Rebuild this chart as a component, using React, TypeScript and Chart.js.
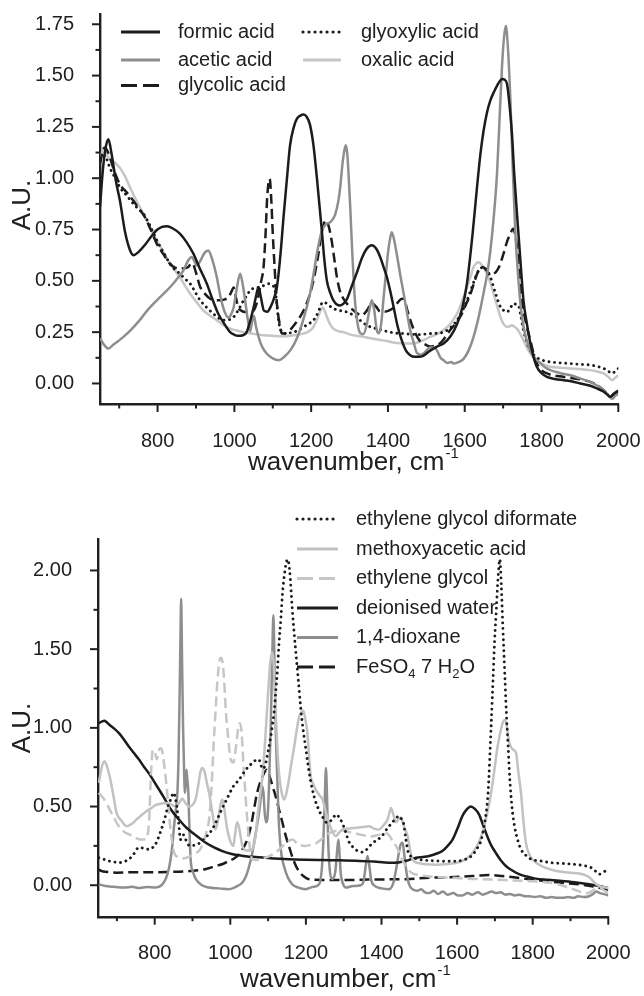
import React, { useEffect, useRef } from 'react';
import { Chart, registerables } from 'chart.js';

Chart.register(...registerables);

const FONT = '"Liberation Sans", Arial, Helvetica, sans-serif';
const INK = '#202020';
const BLACK = '#1c1c1c';
const MID = '#8e8e8e';
const LIGHT = '#c6c6c6';

type Pt = [number, number];

// ---------------- Top panel (wavenumber, A.U.) ----------------
const formicAcid: Pt[] = [
  [650,0.86],[658,1.05],[666,1.16],[672,1.19],[680,1.12],[692,0.98],[702,0.89],[715,0.74],[728,0.65],[737,0.625],[750,0.64],[767,0.675],[785,0.72],[798,0.748],[812,0.763],[824,0.766],[840,0.755],[858,0.73],[875,0.69],[893,0.633],[910,0.56],[928,0.487],[943,0.41],[958,0.34],[974,0.29],[989,0.25],[1000,0.237],[1010,0.232],[1022,0.235],[1032,0.25],[1042,0.31],[1050,0.37],[1057,0.43],[1063,0.47],[1069,0.42],[1077,0.355],[1086,0.35],[1096,0.38],[1104,0.42],[1110,0.46],[1116,0.55],[1122,0.67],[1128,0.81],[1137,1.0],[1145,1.16],[1155,1.25],[1163,1.29],[1172,1.305],[1180,1.31],[1188,1.3],[1197,1.26],[1206,1.16],[1215,1.0],[1222,0.86],[1228,0.74],[1234,0.61],[1241,0.5],[1250,0.44],[1258,0.405],[1267,0.385],[1276,0.38],[1285,0.39],[1293,0.41],[1305,0.47],[1319,0.54],[1332,0.61],[1345,0.657],[1358,0.673],[1370,0.655],[1380,0.615],[1390,0.56],[1397,0.52],[1406,0.45],[1415,0.37],[1425,0.28],[1436,0.21],[1447,0.16],[1458,0.138],[1470,0.13],[1480,0.13],[1492,0.135],[1510,0.16],[1528,0.18],[1545,0.195],[1563,0.23],[1580,0.29],[1594,0.37],[1606,0.49],[1620,0.72],[1632,0.956],[1641,1.12],[1649,1.23],[1658,1.32],[1667,1.38],[1676,1.42],[1684,1.45],[1692,1.475],[1698,1.483],[1704,1.48],[1710,1.46],[1716,1.37],[1723,1.217],[1729,1.02],[1736,0.83],[1745,0.6],[1753,0.405],[1762,0.29],[1771,0.195],[1780,0.125],[1788,0.08],[1800,0.05],[1814,0.032],[1835,0.022],[1858,0.016],[1880,0.01],[1901,0.0],[1925,-0.01],[1945,-0.025],[1962,-0.04],[1972,-0.055],[1979,-0.065],[1988,-0.05],[2000,-0.035]
];
const aceticAcid: Pt[] = [
  [650,0.22],[660,0.19],[672,0.17],[685,0.19],[700,0.21],[711,0.227],[730,0.26],[754,0.31],[775,0.36],[798,0.405],[820,0.445],[841,0.487],[855,0.52],[867,0.55],[880,0.6],[889,0.616],[896,0.595],[902,0.575],[912,0.6],[922,0.635],[932,0.648],[943,0.6],[954,0.52],[963,0.43],[971,0.37],[978,0.335],[985,0.32],[992,0.34],[998,0.37],[1006,0.46],[1015,0.535],[1022,0.48],[1028,0.405],[1035,0.31],[1041,0.255],[1046,0.3],[1051,0.33],[1056,0.28],[1063,0.227],[1072,0.18],[1084,0.146],[1100,0.122],[1115,0.113],[1130,0.13],[1145,0.16],[1158,0.2],[1171,0.26],[1184,0.34],[1197,0.437],[1206,0.53],[1215,0.632],[1222,0.7],[1228,0.745],[1238,0.775],[1250,0.786],[1262,0.82],[1271,0.89],[1276,0.96],[1281,1.06],[1286,1.13],[1290,1.16],[1294,1.12],[1298,1.0],[1302,0.85],[1307,0.64],[1314,0.405],[1321,0.29],[1328,0.245],[1336,0.24],[1344,0.28],[1352,0.36],[1358,0.405],[1364,0.36],[1371,0.26],[1377,0.245],[1383,0.3],[1388,0.405],[1395,0.54],[1401,0.65],[1406,0.71],[1410,0.737],[1416,0.7],[1423,0.63],[1432,0.53],[1441,0.437],[1450,0.34],[1458,0.26],[1467,0.2],[1475,0.15],[1485,0.14],[1495,0.15],[1510,0.175],[1520,0.175],[1528,0.16],[1537,0.125],[1545,0.113],[1555,0.1],[1565,0.105],[1571,0.097],[1585,0.105],[1597,0.12],[1610,0.16],[1623,0.227],[1637,0.33],[1649,0.44],[1659,0.54],[1667,0.65],[1676,0.82],[1684,1.02],[1691,1.3],[1697,1.54],[1702,1.68],[1707,1.743],[1712,1.65],[1719,1.38],[1725,1.05],[1732,0.73],[1740,0.5],[1749,0.324],[1760,0.22],[1771,0.16],[1782,0.125],[1793,0.105],[1808,0.08],[1823,0.065],[1850,0.05],[1875,0.04],[1900,0.025],[1927,0.008],[1945,-0.01],[1962,-0.032],[1975,-0.06],[1984,-0.075],[1992,-0.06],[2000,-0.05]
];
const glycolicAcid: Pt[] = [
  [650,1.07],[657,1.13],[663,1.15],[670,1.13],[676,1.1],[688,1.03],[702,0.97],[720,0.93],[737,0.89],[752,0.85],[767,0.81],[782,0.75],[798,0.68],[815,0.63],[832,0.584],[845,0.565],[858,0.56],[870,0.562],[880,0.567],[888,0.585],[893,0.58],[900,0.54],[911,0.47],[924,0.435],[937,0.413],[950,0.405],[963,0.405],[975,0.41],[985,0.42],[993,0.45],[998,0.467],[1004,0.42],[1010,0.37],[1018,0.355],[1028,0.348],[1040,0.35],[1050,0.355],[1058,0.39],[1063,0.43],[1070,0.5],[1076,0.567],[1081,0.72],[1085,0.89],[1089,0.98],[1092,0.997],[1096,0.9],[1100,0.73],[1105,0.56],[1110,0.405],[1117,0.3],[1124,0.243],[1134,0.245],[1145,0.26],[1158,0.29],[1171,0.324],[1184,0.37],[1197,0.437],[1208,0.52],[1219,0.632],[1228,0.74],[1238,0.794],[1245,0.77],[1253,0.7],[1260,0.61],[1267,0.518],[1275,0.45],[1284,0.413],[1297,0.38],[1310,0.356],[1321,0.34],[1332,0.332],[1345,0.355],[1358,0.39],[1369,0.375],[1380,0.35],[1391,0.35],[1402,0.355],[1415,0.37],[1426,0.395],[1436,0.413],[1442,0.41],[1450,0.36],[1458,0.31],[1470,0.25],[1484,0.205],[1497,0.19],[1510,0.18],[1523,0.185],[1536,0.196],[1549,0.225],[1562,0.26],[1575,0.29],[1588,0.324],[1602,0.38],[1615,0.437],[1626,0.5],[1636,0.551],[1645,0.567],[1653,0.56],[1661,0.54],[1668,0.532],[1676,0.535],[1684,0.55],[1692,0.58],[1701,0.632],[1710,0.69],[1719,0.73],[1726,0.754],[1731,0.73],[1736,0.665],[1742,0.54],[1749,0.405],[1760,0.29],[1771,0.21],[1780,0.14],[1788,0.097],[1800,0.065],[1820,0.045],[1858,0.032],[1900,0.02],[1927,0.008],[1950,-0.015],[1965,-0.04],[1979,-0.065],[1990,-0.05],[2000,-0.04]
];
const glyoxylicAcid: Pt[] = [
  [650,1.09],[657,1.1],[663,1.11],[670,1.08],[676,1.05],[690,1.0],[702,0.955],[720,0.915],[737,0.875],[750,0.85],[763,0.827],[780,0.77],[798,0.697],[815,0.64],[832,0.584],[845,0.555],[858,0.535],[871,0.51],[885,0.486],[898,0.445],[911,0.405],[928,0.37],[945,0.34],[958,0.32],[971,0.308],[985,0.31],[998,0.324],[1011,0.36],[1024,0.405],[1033,0.43],[1041,0.454],[1054,0.465],[1067,0.47],[1078,0.478],[1089,0.486],[1098,0.48],[1106,0.454],[1111,0.38],[1115,0.308],[1121,0.26],[1128,0.243],[1140,0.245],[1154,0.25],[1167,0.26],[1180,0.275],[1193,0.29],[1206,0.308],[1219,0.35],[1226,0.385],[1232,0.397],[1240,0.39],[1250,0.375],[1258,0.365],[1275,0.355],[1293,0.348],[1306,0.337],[1319,0.324],[1332,0.3],[1345,0.284],[1358,0.273],[1371,0.267],[1388,0.258],[1406,0.25],[1423,0.245],[1441,0.243],[1460,0.24],[1480,0.238],[1495,0.24],[1510,0.243],[1528,0.245],[1545,0.25],[1562,0.27],[1580,0.308],[1593,0.35],[1606,0.405],[1619,0.47],[1632,0.535],[1641,0.56],[1649,0.567],[1658,0.55],[1667,0.518],[1680,0.44],[1693,0.373],[1702,0.355],[1710,0.348],[1718,0.365],[1727,0.39],[1734,0.385],[1740,0.38],[1746,0.33],[1753,0.26],[1762,0.2],[1771,0.16],[1782,0.135],[1793,0.12],[1808,0.11],[1823,0.105],[1850,0.1],[1875,0.097],[1900,0.093],[1927,0.09],[1945,0.083],[1962,0.073],[1975,0.058],[1984,0.049],[1992,0.06],[2000,0.073]
];
const oxalicAcid: Pt[] = [
  [650,1.07],[655,1.12],[659,1.15],[665,1.13],[672,1.1],[686,1.08],[702,1.05],[715,1.01],[728,0.956],[745,0.89],[763,0.827],[780,0.76],[798,0.697],[815,0.64],[832,0.584],[845,0.55],[858,0.518],[871,0.478],[885,0.437],[902,0.395],[919,0.356],[937,0.33],[954,0.308],[971,0.285],[989,0.267],[1006,0.258],[1024,0.25],[1050,0.242],[1076,0.235],[1100,0.232],[1128,0.23],[1155,0.235],[1180,0.243],[1195,0.255],[1206,0.275],[1215,0.31],[1223,0.348],[1230,0.37],[1236,0.35],[1241,0.324],[1250,0.285],[1258,0.267],[1270,0.255],[1284,0.25],[1302,0.238],[1320,0.232],[1336,0.227],[1354,0.22],[1371,0.215],[1388,0.21],[1406,0.203],[1423,0.197],[1441,0.195],[1458,0.195],[1470,0.196],[1485,0.205],[1497,0.215],[1510,0.227],[1528,0.24],[1545,0.26],[1562,0.29],[1580,0.34],[1593,0.4],[1606,0.47],[1615,0.52],[1623,0.567],[1630,0.585],[1636,0.59],[1645,0.575],[1658,0.535],[1667,0.49],[1675,0.437],[1684,0.38],[1693,0.324],[1701,0.29],[1710,0.275],[1716,0.278],[1723,0.284],[1730,0.275],[1736,0.267],[1745,0.24],[1753,0.21],[1762,0.175],[1771,0.146],[1782,0.12],[1793,0.105],[1808,0.09],[1823,0.081],[1850,0.077],[1875,0.073],[1900,0.07],[1927,0.065],[1945,0.058],[1962,0.049],[1975,0.03],[1984,0.016],[1992,0.028],[2000,0.04]
];

// ---------------- Bottom panel ----------------
const ethyleneGlycolDiformate: Pt[] = [
  [652,0.175],[665,0.165],[679,0.154],[692,0.148],[705,0.143],[718,0.15],[732,0.165],[745,0.2],[758,0.24],[771,0.235],[785,0.228],[795,0.24],[802,0.26],[814,0.33],[826,0.418],[835,0.5],[842,0.544],[850,0.587],[855,0.55],[859,0.49],[864,0.38],[868,0.29],[872,0.3],[876,0.32],[882,0.29],[888,0.26],[895,0.25],[906,0.255],[920,0.27],[933,0.3],[946,0.333],[960,0.39],[973,0.46],[990,0.544],[1008,0.628],[1023,0.67],[1041,0.734],[1055,0.77],[1063,0.787],[1072,0.8],[1078,0.79],[1085,0.74],[1092,0.76],[1100,0.85],[1106,0.93],[1111,1.01],[1116,1.1],[1120,1.22],[1125,1.38],[1129,1.54],[1134,1.7],[1138,1.85],[1143,1.97],[1148,2.05],[1152,2.07],[1157,2.0],[1164,1.75],[1169,1.6],[1173,1.49],[1180,1.3],[1186,1.135],[1192,1.0],[1199,0.88],[1206,0.76],[1212,0.67],[1222,0.56],[1234,0.48],[1245,0.43],[1256,0.397],[1266,0.41],[1274,0.435],[1281,0.45],[1288,0.43],[1296,0.397],[1305,0.34],[1313,0.28],[1322,0.249],[1332,0.225],[1340,0.217],[1350,0.21],[1360,0.225],[1375,0.265],[1390,0.29],[1401,0.312],[1415,0.36],[1428,0.397],[1440,0.43],[1447,0.44],[1453,0.42],[1458,0.397],[1464,0.3],[1471,0.207],[1482,0.18],[1497,0.165],[1520,0.158],[1550,0.154],[1580,0.152],[1603,0.154],[1622,0.165],[1638,0.186],[1652,0.23],[1664,0.29],[1673,0.4],[1682,0.587],[1690,1.01],[1695,1.3],[1699,1.54],[1704,1.76],[1708,1.94],[1713,2.07],[1717,1.9],[1721,1.64],[1726,1.35],[1730,1.11],[1735,0.88],[1739,0.69],[1745,0.5],[1752,0.375],[1760,0.29],[1769,0.228],[1782,0.19],[1796,0.165],[1820,0.155],[1849,0.143],[1880,0.138],[1910,0.133],[1935,0.125],[1954,0.112],[1966,0.09],[1976,0.07],[1985,0.08],[1993,0.09],[2000,0.09]
];
const methoxyaceticAcid: Pt[] = [
  [652,0.65],[660,0.75],[667,0.787],[673,0.76],[680,0.7],[690,0.58],[699,0.46],[712,0.41],[726,0.375],[740,0.39],[752,0.418],[765,0.445],[778,0.47],[791,0.49],[803,0.51],[816,0.518],[829,0.523],[842,0.515],[855,0.5],[864,0.52],[873,0.55],[882,0.52],[891,0.5],[900,0.51],[908,0.544],[915,0.63],[921,0.72],[926,0.745],[932,0.72],[938,0.65],[944,0.586],[952,0.47],[961,0.354],[968,0.42],[974,0.51],[979,0.544],[985,0.47],[992,0.354],[1000,0.28],[1008,0.249],[1013,0.33],[1018,0.4],[1023,0.37],[1032,0.25],[1045,0.22],[1058,0.228],[1066,0.3],[1073,0.46],[1080,0.6],[1086,0.71],[1093,0.95],[1100,1.22],[1106,1.42],[1111,1.48],[1115,1.4],[1120,1.11],[1125,0.85],[1129,0.71],[1135,0.6],[1142,0.544],[1148,0.58],[1155,0.67],[1162,0.78],[1169,0.88],[1176,0.99],[1182,1.07],[1188,1.1],[1193,1.11],[1198,1.06],[1204,0.966],[1209,0.8],[1213,0.69],[1220,0.64],[1226,0.607],[1235,0.575],[1244,0.544],[1252,0.47],[1261,0.397],[1270,0.34],[1279,0.312],[1288,0.335],[1297,0.354],[1315,0.36],[1332,0.365],[1350,0.37],[1367,0.375],[1380,0.36],[1393,0.354],[1405,0.38],[1416,0.418],[1421,0.46],[1425,0.49],[1430,0.46],[1438,0.4],[1445,0.42],[1451,0.43],[1460,0.37],[1469,0.312],[1476,0.22],[1482,0.165],[1500,0.14],[1518,0.133],[1545,0.13],[1570,0.133],[1592,0.14],[1614,0.154],[1628,0.175],[1641,0.207],[1655,0.26],[1667,0.333],[1679,0.45],[1690,0.587],[1699,0.74],[1707,0.88],[1716,0.99],[1722,1.04],[1727,1.05],[1732,1.0],[1737,0.92],[1742,0.88],[1749,0.86],[1756,0.84],[1762,0.72],[1769,0.587],[1775,0.42],[1782,0.27],[1792,0.19],[1809,0.143],[1835,0.11],[1862,0.09],[1900,0.08],[1932,0.07],[1950,0.05],[1968,0.006],[1980,-0.01],[1994,-0.015],[2000,-0.02]
];
const ethyleneGlycol: Pt[] = [
  [652,0.587],[665,0.55],[679,0.49],[692,0.43],[705,0.375],[719,0.34],[735,0.32],[750,0.3],[762,0.29],[775,0.29],[785,0.4],[790,0.7],[795,0.86],[800,0.85],[806,0.8],[810,0.85],[815,0.87],[820,0.85],[826,0.75],[833,0.59],[842,0.35],[851,0.21],[860,0.18],[875,0.17],[890,0.18],[905,0.2],[918,0.22],[930,0.28],[938,0.35],[944,0.42],[950,0.61],[956,0.9],[961,1.11],[966,1.3],[971,1.42],[975,1.445],[980,1.41],[985,1.25],[988,1.11],[994,0.95],[1001,0.8],[1008,0.78],[1015,0.88],[1020,0.98],[1025,1.03],[1030,0.97],[1034,0.8],[1040,0.58],[1046,0.38],[1052,0.23],[1058,0.165],[1070,0.16],[1085,0.17],[1099,0.18],[1115,0.2],[1131,0.23],[1148,0.27],[1164,0.29],[1180,0.26],[1196,0.25],[1212,0.255],[1229,0.27],[1245,0.3],[1261,0.33],[1278,0.345],[1294,0.35],[1310,0.34],[1327,0.33],[1348,0.32],[1370,0.31],[1392,0.32],[1413,0.33],[1430,0.28],[1445,0.22],[1451,0.18],[1465,0.12],[1479,0.08],[1500,0.065],[1530,0.055],[1560,0.05],[1587,0.047],[1640,0.04],[1696,0.036],[1750,0.03],[1804,0.025],[1860,0.01],[1913,-0.03],[1930,-0.045],[1945,-0.05],[1962,-0.03],[1978,-0.017],[1990,-0.035],[2000,-0.05]
];
const deionisedWater: Pt[] = [
  [652,1.03],[660,1.04],[667,1.045],[673,1.035],[680,1.02],[693,0.995],[706,0.965],[719,0.925],[732,0.88],[745,0.84],[758,0.8],[771,0.755],[785,0.71],[798,0.66],[811,0.61],[825,0.555],[838,0.5],[851,0.455],[864,0.418],[882,0.37],[900,0.333],[918,0.3],[935,0.27],[957,0.24],[979,0.217],[1001,0.2],[1023,0.19],[1045,0.183],[1067,0.18],[1100,0.173],[1130,0.168],[1155,0.165],[1200,0.162],[1244,0.16],[1290,0.158],[1332,0.156],[1380,0.15],[1420,0.143],[1445,0.145],[1465,0.155],[1491,0.175],[1510,0.18],[1526,0.186],[1545,0.2],[1561,0.217],[1575,0.25],[1588,0.29],[1601,0.36],[1614,0.44],[1625,0.48],[1636,0.5],[1647,0.485],[1658,0.45],[1669,0.38],[1680,0.31],[1691,0.25],[1702,0.207],[1715,0.16],[1729,0.122],[1745,0.095],[1764,0.07],[1785,0.055],[1808,0.042],[1840,0.035],[1878,0.027],[1915,0.018],[1949,0.006],[1975,-0.005],[1993,-0.015],[2000,-0.018]
];
const dioxane: Pt[] = [
  [652,0.006],[670,-0.005],[690,-0.01],[719,-0.015],[740,-0.01],[760,-0.018],[780,-0.012],[802,-0.015],[818,0.0],[829,0.04],[837,0.1],[842,0.165],[847,0.26],[851,0.37],[856,0.48],[860,0.587],[863,0.8],[866,1.22],[868,1.55],[870,1.82],[872,1.5],[875,1.01],[878,0.7],[880,0.587],[882,0.65],[884,0.734],[886,0.68],[889,0.59],[892,0.35],[895,0.165],[902,0.08],[909,0.038],[925,0.0],[944,-0.015],[970,-0.02],[996,-0.025],[1015,-0.01],[1032,0.017],[1042,0.06],[1050,0.122],[1057,0.19],[1063,0.27],[1070,0.37],[1076,0.46],[1082,0.58],[1085,0.628],[1088,0.58],[1091,0.46],[1095,0.4],[1098,0.42],[1102,0.6],[1107,1.01],[1111,1.45],[1114,1.715],[1117,1.4],[1120,1.01],[1124,0.7],[1129,0.37],[1135,0.2],[1142,0.122],[1152,0.05],[1164,0.006],[1180,-0.015],[1199,-0.025],[1220,-0.01],[1235,0.006],[1242,0.1],[1246,0.27],[1250,0.55],[1253,0.745],[1256,0.55],[1259,0.27],[1263,0.1],[1269,0.04],[1274,0.05],[1278,0.09],[1282,0.2],[1286,0.29],[1289,0.2],[1292,0.08],[1298,0.01],[1306,-0.015],[1325,-0.005],[1345,0.0],[1353,0.03],[1358,0.12],[1363,0.186],[1368,0.12],[1373,0.03],[1380,0.0],[1400,-0.02],[1420,-0.025],[1432,0.02],[1440,0.12],[1447,0.22],[1451,0.26],[1456,0.27],[1460,0.2],[1465,0.1],[1469,0.04],[1476,-0.01],[1482,-0.025],[1495,-0.035],[1505,-0.025],[1515,-0.045],[1526,-0.05],[1538,-0.035],[1550,-0.055],[1562,-0.04],[1575,-0.06],[1590,-0.05],[1602,-0.065],[1614,-0.066],[1628,-0.05],[1640,-0.06],[1655,-0.045],[1668,-0.06],[1680,-0.05],[1692,-0.04],[1703,-0.05],[1715,-0.045],[1728,-0.06],[1740,-0.055],[1752,-0.065],[1765,-0.06],[1779,-0.07],[1791,-0.07],[1805,-0.075],[1820,-0.07],[1835,-0.08],[1850,-0.075],[1865,-0.08],[1879,-0.08],[1893,-0.075],[1908,-0.08],[1920,-0.07],[1935,-0.075],[1949,-0.07],[1960,-0.055],[1968,-0.04],[1978,-0.05],[1986,-0.055],[1994,-0.06],[2000,-0.065]
];
const ferrousSulfate: Pt[] = [
  [652,0.1],[660,0.09],[670,0.085],[680,0.083],[700,0.08],[730,0.082],[758,0.083],[800,0.083],[850,0.085],[893,0.09],[930,0.1],[961,0.122],[980,0.135],[996,0.154],[1010,0.17],[1023,0.196],[1035,0.24],[1045,0.29],[1052,0.35],[1058,0.418],[1064,0.5],[1071,0.587],[1080,0.66],[1089,0.71],[1096,0.734],[1101,0.71],[1107,0.67],[1113,0.62],[1120,0.565],[1129,0.48],[1138,0.397],[1146,0.32],[1155,0.249],[1167,0.16],[1181,0.09],[1195,0.055],[1208,0.038],[1244,0.033],[1300,0.033],[1350,0.035],[1400,0.037],[1464,0.038],[1526,0.048],[1570,0.05],[1614,0.055],[1650,0.06],[1685,0.065],[1720,0.058],[1755,0.049],[1800,0.035],[1834,0.027],[1880,0.015],[1922,0.006],[1960,-0.008],[1993,-0.025],[2000,-0.028]
];

// ---------------- Ticks ----------------
const xTickValues = [700, 800, 900, 1000, 1100, 1200, 1300, 1400, 1500, 1600, 1700, 1800, 1900, 2000];
const topYTickValues = [0, 0.125, 0.25, 0.375, 0.5, 0.625, 0.75, 0.875, 1, 1.125, 1.25, 1.375, 1.5, 1.625, 1.75];
const bottomYTickValues = [0, 0.25, 0.5, 0.75, 1, 1.25, 1.5, 1.75, 2];

const xTitle = 'wavenumber, cm';
const xTitleSup = '-1';
const yTitle = 'A.U.';

type Style = 'solid' | 'dash' | 'dot';
interface Series { label: string; parts?: { t: string; sub?: boolean }[]; data: Pt[]; color: string; style: Style; }

const topSeries: Series[] = [
  { label: 'formic acid', data: formicAcid, color: BLACK, style: 'solid' },
  { label: 'acetic acid', data: aceticAcid, color: MID, style: 'solid' },
  { label: 'glycolic acid', data: glycolicAcid, color: BLACK, style: 'dash' },
  { label: 'glyoxylic acid', data: glyoxylicAcid, color: BLACK, style: 'dot' },
  { label: 'oxalic acid', data: oxalicAcid, color: LIGHT, style: 'solid' },
];
const bottomSeries: Series[] = [
  { label: 'ethylene glycol diformate', data: ethyleneGlycolDiformate, color: BLACK, style: 'dot' },
  { label: 'methoxyacetic acid', data: methoxyaceticAcid, color: '#c2c2c2', style: 'solid' },
  { label: 'ethylene glycol', data: ethyleneGlycol, color: '#c6c6c6', style: 'dash' },
  { label: 'deionised water', data: deionisedWater, color: BLACK, style: 'solid' },
  { label: '1,4-dioxane', data: dioxane, color: MID, style: 'solid' },
  { label: 'FeSO4 7 H2O', parts: [{ t: 'FeSO' }, { t: '4', sub: true }, { t: ' 7 H' }, { t: '2', sub: true }, { t: 'O' }], data: ferrousSulfate, color: BLACK, style: 'dash' },
];

const dashFor = (s: Style) => (s === 'dash' ? [10, 5] : s === 'dot' ? [0.01, 5.6] : []);

function makeDatasets(series: Series[]) {
  return series.map((s) => ({
    label: s.label,
    data: s.data.map(([x, y]) => ({ x, y })),
    borderColor: s.color,
    backgroundColor: s.color,
    borderWidth: s.style === 'dot' ? 2.9 : 2.5,
    borderDash: dashFor(s.style),
    borderCapStyle: s.style === 'dot' ? 'round' : 'butt',
    borderJoinStyle: 'round',
    pointRadius: 0,
    pointHoverRadius: 0,
    fill: false,
    cubicInterpolationMode: 'monotone',
  }));
}

interface LegendPos { series: Series; lx1: number; lx2: number; tx: number; y: number; }

function drawLegend(ctx: CanvasRenderingContext2D, items: LegendPos[]) {
  ctx.save();
  for (const it of items) {
    const s = it.series;
    ctx.strokeStyle = s.color;
    ctx.lineWidth = s.style === 'dot' ? 3.2 : 3;
    ctx.lineCap = s.style === 'dot' ? 'round' : 'butt';
    ctx.setLineDash(s.style === 'dash' ? [16, 6] : s.style === 'dot' ? [0.01, 6] : []);
    ctx.beginPath();
    ctx.moveTo(it.lx1, it.y);
    ctx.lineTo(it.lx2, it.y);
    ctx.stroke();
    ctx.setLineDash([]);
    ctx.fillStyle = INK;
    ctx.textBaseline = 'middle';
    ctx.textAlign = 'left';
    const parts = s.parts || [{ t: s.label }];
    let x = it.tx;
    for (const p of parts) {
      ctx.font = (p.sub ? '13px ' : '20px ') + FONT;
      ctx.fillText(p.t, x, it.y + (p.sub ? 7 : 0));
      x += ctx.measureText(p.t).width;
    }
  }
  ctx.restore();
}

function makeDecor(opts: { yTicks: number[]; yMajorStep: number; legend: LegendPos[]; titleX: number; titleBase: number; yTitleY: number }) {
  return {
    id: 'decor',
    beforeDatasetsDraw(chart: any) {
      drawLegend(chart.ctx, opts.legend);
    },
    afterDraw(chart: any) {
      const ctx: CanvasRenderingContext2D = chart.ctx;
      const a = chart.chartArea;
      const xs = chart.scales.x;
      const ys = chart.scales.y;
      ctx.save();
      ctx.strokeStyle = INK;
      ctx.lineWidth = 2;
      ctx.setLineDash([]);
      for (const v of xTickValues) {
        const px = xs.getPixelForValue(v);
        const len = v % 200 === 0 ? 8 : 4.5;
        ctx.beginPath();
        ctx.moveTo(px, a.bottom);
        ctx.lineTo(px, a.bottom + len);
        ctx.stroke();
      }
      for (const v of opts.yTicks) {
        const py = ys.getPixelForValue(v);
        const r = v / opts.yMajorStep;
        const len = Math.abs(r - Math.round(r)) < 1e-6 ? 8 : 4.5;
        ctx.beginPath();
        ctx.moveTo(a.left - len, py);
        ctx.lineTo(a.left, py);
        ctx.stroke();
      }
      // x title with superscript
      ctx.fillStyle = INK;
      ctx.textBaseline = 'alphabetic';
      ctx.textAlign = 'left';
      ctx.font = '26px ' + FONT;
      ctx.fillText(xTitle, opts.titleX, opts.titleBase);
      const w = ctx.measureText(xTitle).width;
      ctx.font = '15px ' + FONT;
      ctx.fillText(xTitleSup, opts.titleX + w + 1, opts.titleBase - 12);
      // y title
      ctx.translate(30, opts.yTitleY);
      ctx.rotate(-Math.PI / 2);
      ctx.font = '26px ' + FONT;
      ctx.textAlign = 'center';
      ctx.fillText(yTitle, 0, 0);
      ctx.restore();
    },
  };
}

// Chart.js reserves extra room for edge tick labels; the reference places the
// axes exactly, so the scale's own edge padding is cleared after fitting.
const clearScalePadding = (scale: any) => {
  scale.paddingLeft = 0;
  scale.paddingRight = 0;
  scale.paddingTop = 0;
  scale.paddingBottom = 0;
};

function makeConfig(p: {
  series: Series[]; yMin: number; yMax: number; yTicks: number[]; yMajorStep: number;
  pad: { top: number; right: number }; yWidth: number; xHeight: number; decor: any;
}) {
  return {
    type: 'line' as const,
    data: { datasets: makeDatasets(p.series) as any },
    options: {
      animation: false as const,
      responsive: false,
      maintainAspectRatio: false,
      devicePixelRatio: 1,
      events: [] as any,
      layout: { padding: { top: p.pad.top, right: p.pad.right, left: 0, bottom: 0 } },
      plugins: { legend: { display: false }, tooltip: { enabled: false }, title: { display: false } },
      scales: {
        x: {
          type: 'linear' as const,
          min: 650,
          max: 2000,
          grid: { display: false },
          border: { display: true, color: INK, width: 2.4 },
          afterBuildTicks: (scale: any) => { scale.ticks = xTickValues.map((v) => ({ value: v })); },
          afterFit: (scale: any) => { scale.height = p.xHeight; clearScalePadding(scale); },
          ticks: {
            autoSkip: false,
            maxRotation: 0,
            padding: 17,
            color: INK,
            font: { family: FONT, size: 20 },
            callback: (v: any) => (Number(v) % 200 === 0 ? String(v) : ''),
          },
        },
        y: {
          type: 'linear' as const,
          min: p.yMin,
          max: p.yMax,
          grid: { display: false },
          border: { display: true, color: INK, width: 2.4 },
          afterBuildTicks: (scale: any) => { scale.ticks = p.yTicks.map((v) => ({ value: v })); },
          afterFit: (scale: any) => { scale.width = p.yWidth; clearScalePadding(scale); },
          ticks: {
            autoSkip: false,
            padding: 18,
            color: INK,
            font: { family: FONT, size: 20 },
            callback: (v: any) => {
              const r = Number(v) / p.yMajorStep;
              return Math.abs(r - Math.round(r)) < 1e-6 ? Number(v).toFixed(2) : '';
            },
          },
        },
      },
    },
    plugins: [p.decor],
  };
}

export default function App() {
  const topRef = useRef<HTMLCanvasElement>(null);
  const botRef = useRef<HTMLCanvasElement>(null);

  useEffect(() => {
    const topLegend: LegendPos[] = [
      { series: topSeries[0], lx1: 121, lx2: 160, tx: 178, y: 32 },
      { series: topSeries[1], lx1: 121, lx2: 160, tx: 178, y: 60 },
      { series: topSeries[2], lx1: 121, lx2: 160, tx: 178, y: 85.5 },
      { series: topSeries[3], lx1: 303, lx2: 340, tx: 361, y: 32 },
      { series: topSeries[4], lx1: 303, lx2: 341, tx: 361, y: 60 },
    ];
    const botRows = [29, 59, 88.5, 118, 147.5, 177];
    const botLegend: LegendPos[] = bottomSeries.map((s, i) => ({ series: s, lx1: 297, lx2: 338, tx: 356, y: botRows[i] }));

    const c1 = new Chart(topRef.current as HTMLCanvasElement, makeConfig({
      series: topSeries, yMin: -0.1, yMax: 1.8, yTicks: topYTickValues, yMajorStep: 0.25,
      pad: { top: 14, right: 25.7 }, yWidth: 100, xHeight: 86,
      decor: makeDecor({ yTicks: topYTickValues, yMajorStep: 0.25, legend: topLegend, titleX: 248, titleBase: 470, yTitleY: 205 }),
    }) as any);
    const c2 = new Chart(botRef.current as HTMLCanvasElement, makeConfig({
      series: bottomSeries, yMin: -0.2, yMax: 2.2, yTicks: bottomYTickValues, yMajorStep: 0.5,
      pad: { top: 49, right: 35.7 }, yWidth: 98, xHeight: 79.3,
      decor: makeDecor({ yTicks: bottomYTickValues, yMajorStep: 0.5, legend: botLegend, titleX: 240, titleBase: 497, yTitleY: 238 }),
    }) as any);
    return () => { c1.destroy(); c2.destroy(); };
  }, []);

  return (
    <div style={{ position: 'fixed', left: 0, top: 0, width: 644, height: 996, background: '#ffffff' }}>
      <canvas ref={topRef} width={644} height={490} style={{ position: 'absolute', left: 0, top: 0, width: 644, height: 490 }} />
      <canvas ref={botRef} width={644} height={506} style={{ position: 'absolute', left: 0, top: 490, width: 644, height: 506 }} />
    </div>
  );
}
